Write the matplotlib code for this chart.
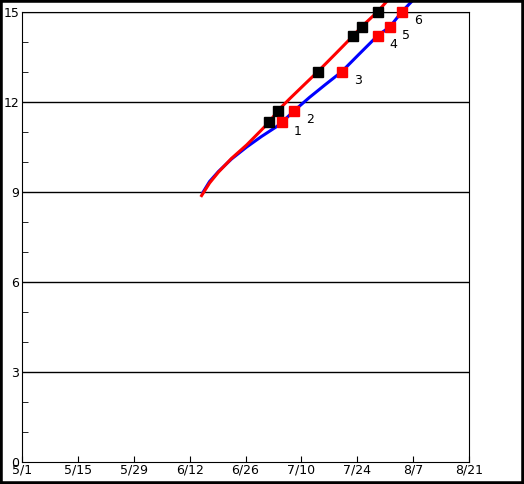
import matplotlib
matplotlib.use("Agg")
import matplotlib.pyplot as plt
from matplotlib.patches import Rectangle

# dias desde el 1 de mayo
tick_dias = [0, 14, 28, 42, 56, 70, 84, 98, 112]
tick_fechas = ["5/1", "5/15", "5/29", "6/12", "6/26", "7/10", "7/24", "8/7", "8/21"]

azul_x = [45.3, 47.0, 49.2, 52.5, 56.3, 60.0, 63.8, 65.1, 68.2, 72.0, 76.0, 80.1, 84.5, 89.1, 92.2, 95.2, 98.0]
azul_y = [8.98, 9.35, 9.68, 10.1, 10.5, 10.85, 11.18, 11.32, 11.71, 12.15, 12.58, 13.01, 13.6, 14.21, 14.51, 15.01, 15.4]

rojo_x = [45.0, 47.0, 49.2, 52.5, 56.3, 59.5, 62.0, 64.1, 67.0, 70.5, 74.1, 78.5, 83.0, 85.1, 89.1, 91.7]
rojo_y = [8.88, 9.3, 9.66, 10.12, 10.57, 11.0, 11.34, 11.71, 12.1, 12.55, 13.01, 13.6, 14.21, 14.51, 15.01, 15.4]

# marcadores rojos numerados (sobre la curva azul)
marca_x = [65.1, 68.2, 80.1, 89.1, 92.2, 95.2]
marca_y = [11.32, 11.71, 13.01, 14.21, 14.51, 15.01]
marca_txt = ["1", "2", "3", "4", "5", "6"]

# marcadores negros (sobre la curva roja)
negro_x = [62.0, 64.1, 74.1, 83.0, 85.1, 89.1]
negro_y = [11.34, 11.71, 13.01, 14.21, 14.51, 15.01]

fig = plt.figure(figsize=(5.24, 4.84), dpi=100)
ax = fig.add_axes([22 / 524, 22 / 484, 447 / 524, 450 / 484])

ax.set_xlim(0, 112)
ax.set_ylim(0, 15)

for g in [3, 6, 9, 12, 15]:
    ax.axhline(g, color="black", lw=1, zorder=1)

ax.plot(azul_x, azul_y, color="#0000ff", lw=2.2, clip_on=False, zorder=3)
ax.plot(rojo_x, rojo_y, color="#ff0000", lw=2.2, clip_on=False, zorder=3)
ax.plot(negro_x, negro_y, "s", color="black", ms=7, clip_on=False, zorder=4)
ax.plot(marca_x, marca_y, "s", color="#ff0000", ms=7, clip_on=False, zorder=4)
for x, y, t in zip(marca_x, marca_y, marca_txt):
    ax.annotate(t, (x, y), xytext=(16, -9), textcoords="offset pixels",
                ha="center", va="center", fontsize=9, clip_on=False)

ax.set_xticks(tick_dias)
ax.set_xticklabels(tick_fechas, fontsize=9)
ax.set_yticks([0, 3, 6, 9, 12, 15])
ax.set_yticks(range(16), minor=True)
ax.tick_params(axis="x", direction="in", length=4, pad=1)
ax.tick_params(axis="y", which="both", direction="in", length=4, pad=2, labelsize=9)
ax.tick_params(axis="y", which="major", length=0)

fig.patches.append(Rectangle((0, 0), 1, 1, transform=fig.transFigure,
                             fill=False, edgecolor="black", lw=4))

fig.savefig("out.png", dpi=100)
